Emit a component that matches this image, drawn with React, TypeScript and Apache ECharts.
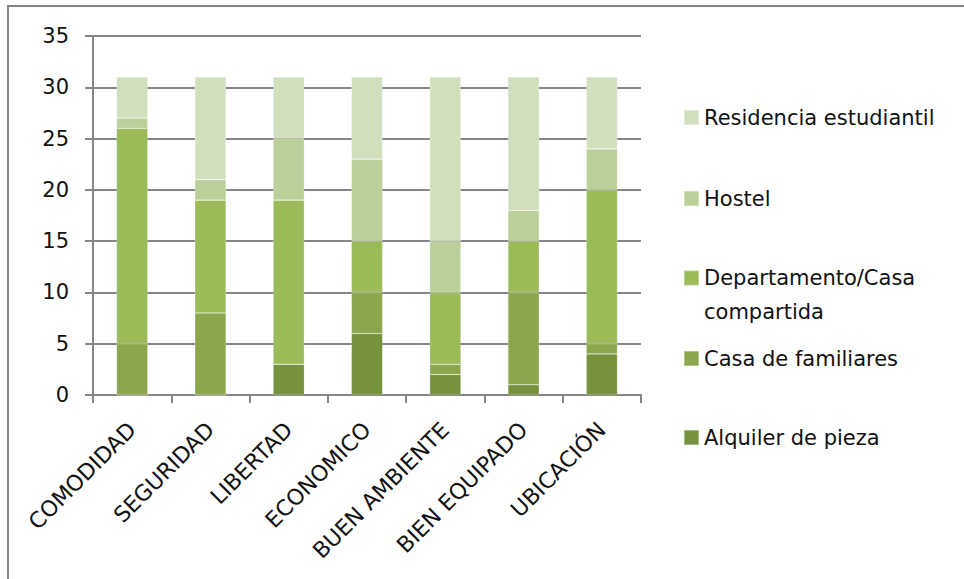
import React, { useEffect, useRef } from "react";
import * as echarts from "echarts";

const categories = ["COMODIDAD", "SEGURIDAD", "LIBERTAD", "ECONOMICO", "BUEN AMBIENTE", "BIEN EQUIPADO", "UBICACIÓN"];
const seriesNames = ["Alquiler de pieza", "Casa de familiares", "Departamento/Casa compartida", "Hostel", "Residencia estudiantil"];
const alquiler = [0, 0, 3, 6, 2, 1, 4];
const casaFamiliares = [5, 8, 0, 4, 1, 9, 1];
const departamento = [21, 11, 16, 5, 7, 5, 15];
const hostel = [1, 2, 6, 8, 5, 3, 4];
const residencia = [4, 10, 6, 8, 16, 13, 7];
const yTicks = [0, 5, 10, 15, 20, 25, 30, 35];

const colors = ["#76923C", "#8CA64E", "#9BBB59", "#BBCF98", "#D2DFBE"];
const legendCenters = [437, 358, 278, 198, 117];

const FONT = "'DejaVu Sans', 'Open Sans', sans-serif";

export default function App() {
  const ref = useRef<HTMLDivElement>(null);
  useEffect(() => {
    if (!ref.current) return;
    const chart = echarts.init(ref.current, undefined, { renderer: "svg" });
    const values = [alquiler, casaFamiliares, departamento, hostel, residencia];
    const series = seriesNames.map((name, i) => ({
      name,
      type: "bar",
      stack: "total",
      barWidth: "40%",
      data: values[i],
      itemStyle: { color: colors[i], borderColor: "rgba(255,255,255,0.35)", borderWidth: 0.6 },
    }));
    const legends = seriesNames.map((name, i) => {
      const multi = name.indexOf("/") >= 0;
      return {
        data: [name],
        left: 683,
        top: multi ? legendCenters[i] - 51 : legendCenters[i] - 10,
        orient: "vertical",
        icon: "rect",
        itemWidth: 15,
        itemHeight: 15,
        itemGap: 0,
        padding: 0,
        selectedMode: false,
        formatter: multi ? () => "\nDepartamento/Casa\ncompartida" : undefined,
        textStyle: multi
          ? { fontFamily: FONT, fontSize: 21, color: "#111", lineHeight: 34 }
          : { fontFamily: FONT, fontSize: 21, color: "#111" },
      };
    });
    chart.setOption({
      animation: false,
      backgroundColor: "#fff",
      grid: { left: 93, right: 323, top: 36, bottom: 184, containLabel: false },
      legend: legends,
      xAxis: {
        type: "category",
        data: categories,
        axisLine: { lineStyle: { color: "#868686", width: 2 } },
        axisTick: { show: true, length: 8, lineStyle: { color: "#868686", width: 2 } },
        axisLabel: { rotate: 45, fontFamily: FONT, fontSize: 22, color: "#111", margin: 31, interval: 0 },
      },
      yAxis: {
        type: "value",
        min: yTicks[0],
        max: yTicks[yTicks.length - 1],
        interval: 5,
        axisLine: { show: true, lineStyle: { color: "#868686", width: 2 } },
        axisTick: { show: true, length: 8, lineStyle: { color: "#868686", width: 2 } },
        splitLine: { lineStyle: { color: "#868686", width: 2 } },
        axisLabel: { fontFamily: FONT, fontSize: 21, color: "#111", margin: 24 },
      },
      graphic: [
        {
          type: "rect",
          shape: { x: 8, y: 6, width: 1000, height: 1000 },
          style: { fill: "none", stroke: "#868686", lineWidth: 2 },
          silent: true,
        },
      ],
      series,
    });
    return () => chart.dispose();
  }, []);
  return <div ref={ref} style={{ position: "absolute", left: 0, top: 0, width: 964, height: 579 }} />;
}
